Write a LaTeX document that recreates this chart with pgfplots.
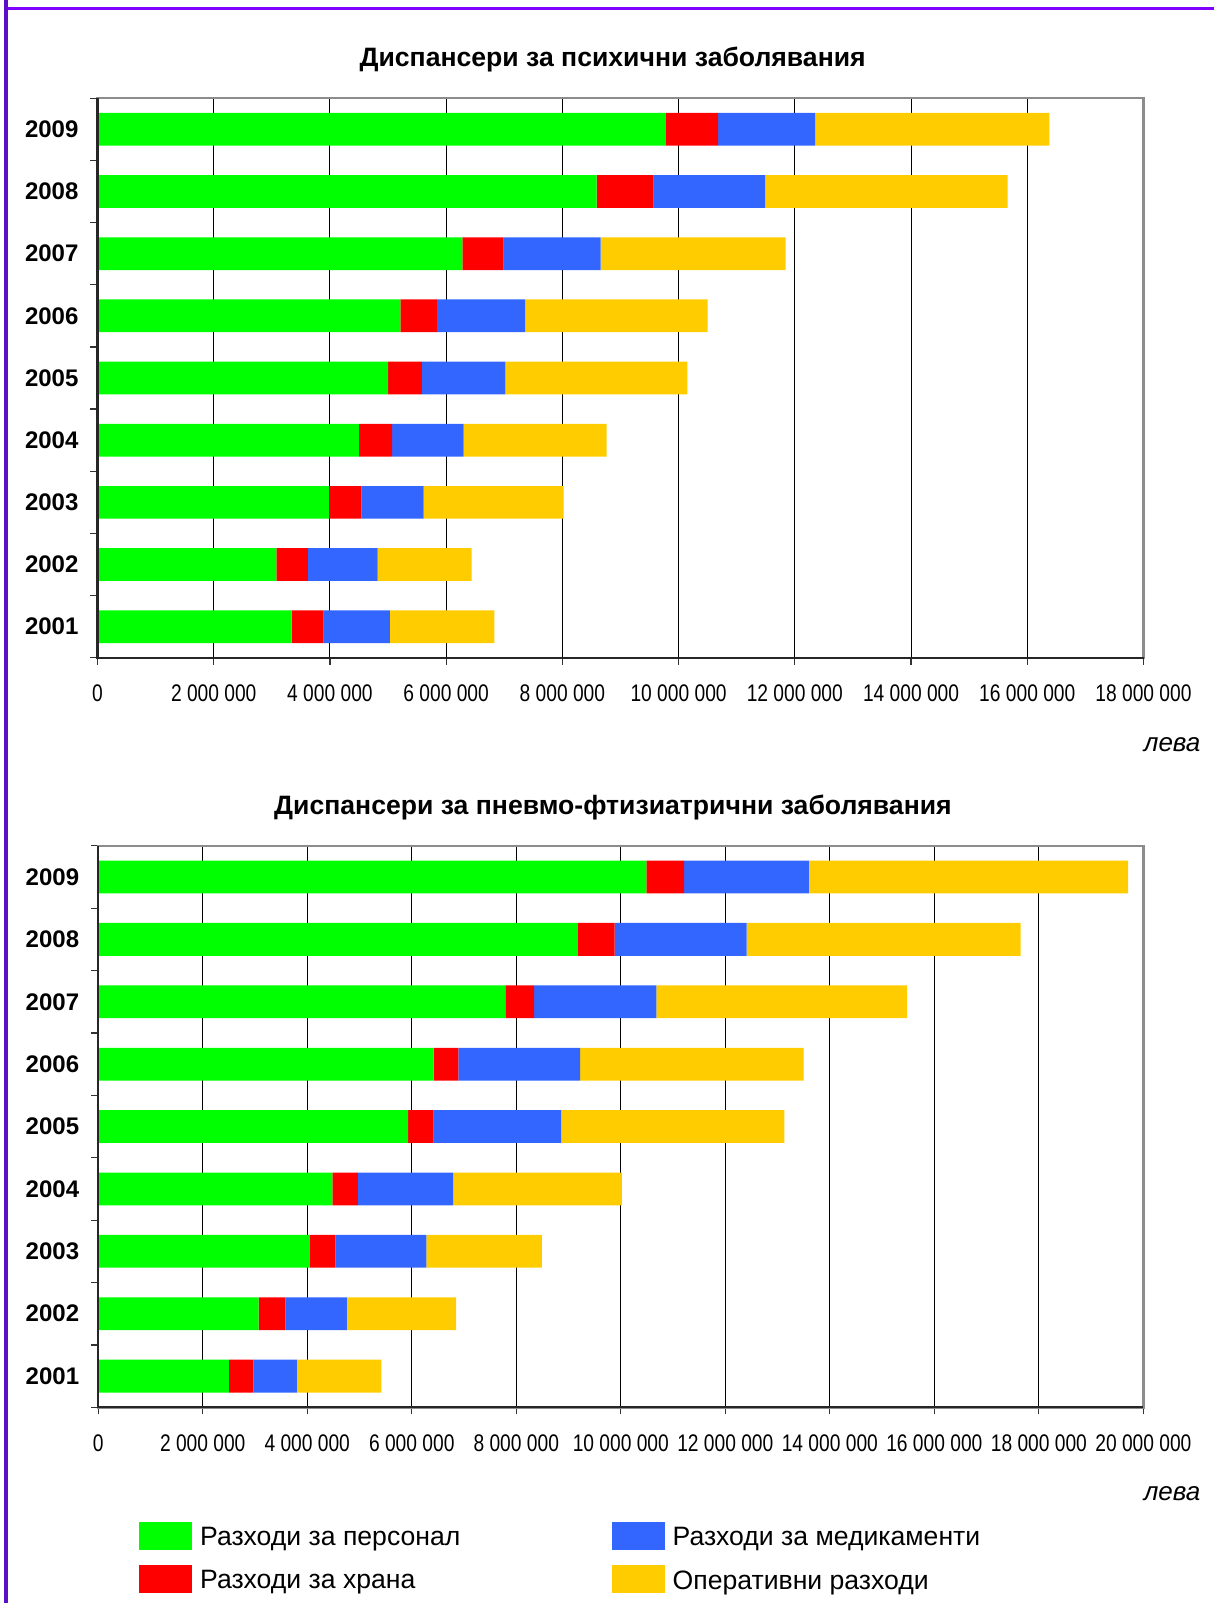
\documentclass[border=0pt]{standalone}
\usepackage{pgfplots}
\pgfplotsset{compat=1.18}
\usepackage{pgfplotstable}
\usepackage{fontspec}
\setmainfont{Liberation Sans}
\newfontfamily\narrowfont[FakeStretch=0.8]{Liberation Sans}

\definecolor{cGreen}{HTML}{00FF00}
\definecolor{cRed}{HTML}{FF0000}
\definecolor{cBlue}{HTML}{3366FF}
\definecolor{cYellow}{HTML}{FFCC00}
\definecolor{cFrameTop}{HTML}{7F00FF}
\definecolor{cFrameLeft}{HTML}{5A10C8}

% Dispensaries for mental diseases
\pgfplotstableread{
year pers food med oper
1 3340000 550000 1140000 1800000
2 3080000 540000 1200000 1620000
3 3980000 560000 1070000 2410000
4 4500000 570000 1230000 2460000
5 5000000 580000 1440000 3130000
6 5210000 630000 1520000 3140000
7 6280000 710000 1670000 3180000
8 8590000 980000 1920000 4170000
9 9780000 900000 1670000 4030000
}\tableA

% Dispensaries for pneumo-phthisiatric diseases
\pgfplotstableread{
year pers food med oper
1 2500000 470000 830000 1620000
2 3070000 510000 1180000 2090000
3 4050000 490000 1740000 2210000
4 4480000 490000 1820000 3230000
5 5930000 490000 2440000 4270000
6 6420000 470000 2330000 4280000
7 7790000 550000 2340000 4800000
8 9180000 700000 2530000 5240000
9 10490000 720000 2390000 6110000
}\tableB

\pgfplotsset{
  mybars/.style={
    xbar stacked, bar width=0.526,
    scale only axis,
    ymin=0.5, ymax=9.5,
    ytick={0.5,1.5,2.5,3.5,4.5,5.5,6.5,7.5,8.5,9.5},
    y tick label as interval,
    yticklabels={2001,2002,2003,2004,2005,2006,2007,2008,2009},
    xmin=0,
    scaled x ticks=false,
    xmajorgrids, ymajorgrids=false,
    major grid style={black, line width=0.5pt},
    axis line style={draw=black!45, line width=1.2pt},
    tick align=outside, tick pos=left,
    major tick length=3.5pt,
    tick style={black!80, line width=0.6pt},
    yticklabel style={font=\bfseries\fontsize{12}{12}\selectfont, xshift=-2.5pt},
    xticklabel style={font=\narrowfont\fontsize{12}{12}\selectfont, yshift=-6.6pt},
    title style={font=\bfseries\fontsize{13.3}{13.3}\selectfont, anchor=base, yshift=9.9pt},
    xlabel style={font=\itshape\fontsize{13}{13}\selectfont, at={(1,0)}, anchor=base east, xshift=32pt, yshift=-46.8pt},
    after end axis/.code={\draw[black!85, line width=1.1pt] (rel axis cs:0,1) -- (rel axis cs:0,0) -- (rel axis cs:1,0);},
  }
}

\begin{document}
\begin{tikzpicture}
\path[use as bounding box] (0,0) rectangle (607pt,-801.5pt);
\fill[cFrameLeft] (2pt,0) rectangle (4pt,-801.5pt);
\fill[cFrameTop] (4pt,-3.65pt) rectangle (607pt,-4.85pt);

\begin{axis}[mybars,
  at={(48.75pt,-49.1pt)}, anchor=north west,
  width=523pt, height=279.8pt,
  xmax=18000000,
  xtick={0,2000000,4000000,6000000,8000000,10000000,12000000,14000000,16000000,18000000},
  xticklabels={0,2 000 000,4 000 000,6 000 000,8 000 000,10 000 000,12 000 000,14 000 000,16 000 000,18 000 000},
  title={Диспансери за психични заболявания},
  title style={at={(0.4925,1)}},
  xlabel={лева},
]
\addplot[fill=cGreen, draw=none] table[x=pers, y=year] {\tableA};
\addplot[fill=cRed, draw=none] table[x=food, y=year] {\tableA};
\addplot[fill=cBlue, draw=none] table[x=med, y=year] {\tableA};
\addplot[fill=cYellow, draw=none] table[x=oper, y=year] {\tableA};
\end{axis}

\begin{axis}[mybars,
  at={(49.1pt,-422.9pt)}, anchor=north west,
  width=522.6pt, height=280.75pt,
  xmax=20000000,
  xtick={0,2000000,4000000,6000000,8000000,10000000,12000000,14000000,16000000,18000000,20000000},
  xticklabels={0,2 000 000,4 000 000,6 000 000,8 000 000,10 000 000,12 000 000,14 000 000,16 000 000,18 000 000,20 000 000},
  title={Диспансери за пневмо-фтизиатрични заболявания},
  title style={at={(0.4925,1)}},
  xlabel={лева},
  legend columns=2,
  legend cell align=left,
  legend style={at={(0.0392,-0.2047)}, anchor=north west, draw=none, fill=none,
    inner sep=0pt, outer sep=0pt, nodes={inner sep=0pt, outer sep=0pt},
    font=\fontsize{13.3}{13.3}\selectfont,
    row sep={21.5pt,between origins},
    /tikz/every odd column/.append style={column sep=4pt}},
  legend image code/.code={\fill[#1] (0pt,-6pt) rectangle (26.5pt,8pt);},
]
\addplot[fill=cGreen, draw=none, forget plot] table[x=pers, y=year] {\tableB};
\addplot[fill=cRed, draw=none, forget plot] table[x=food, y=year] {\tableB};
\addplot[fill=cBlue, draw=none, forget plot] table[x=med, y=year] {\tableB};
\addplot[fill=cYellow, draw=none, forget plot] table[x=oper, y=year] {\tableB};
\addlegendimage{fill=cGreen, draw=none}
\addlegendentry{\makebox[205.75pt][l]{Разходи за персонал}}
\addlegendimage{fill=cBlue, draw=none}
\addlegendentry{Разходи за медикаменти}
\addlegendimage{fill=cRed, draw=none}
\addlegendentry{\makebox[205.75pt][l]{Разходи за храна}}
\addlegendimage{fill=cYellow, draw=none}
\addlegendentry{Оперативни разходи}
\end{axis}
\end{tikzpicture}
\end{document}
